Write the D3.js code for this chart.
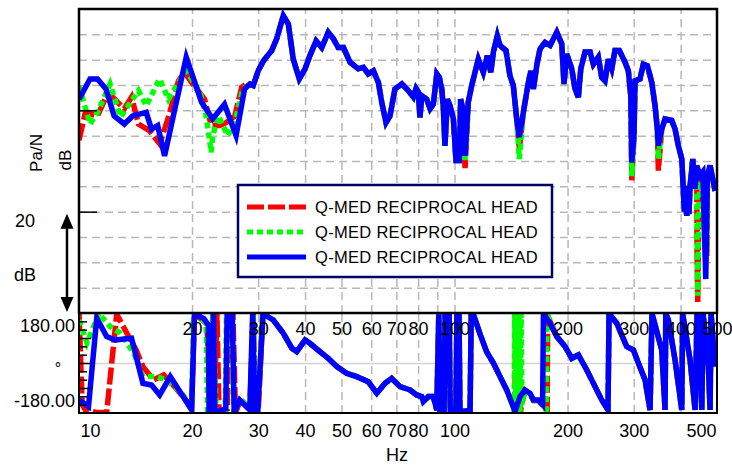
<!DOCTYPE html>
<html>
<head>
<meta charset="utf-8">
<script src="https://cdn.jsdelivr.net/npm/d3@7"></script>
<style>
  body { margin: 0; background: #fff; }
  svg { display: block; font-family: "Liberation Sans", Arial, sans-serif; }
</style>
</head>
<body>
<svg id="chart" width="732" height="465"></svg>
<script>
// ---- data: [frequency Hz, value] ----
// magnitude (dB), below ~28 Hz the three curves differ
const magBlueLow = [[10.0,42.2],[10.7,46.2],[11.2,46.2],[11.8,44.2],[12.4,38.9],[13.2,37.3],[13.9,38.9],[15.1,39.6],[15.6,36.3],[16.2,37.0],[16.9,31.0],[18.0,40.3],[19.3,50.5],[21.2,41.6],[22.7,38.3],[24.4,41.2],[26.2,35.0],[27.6,44.2]];
const magRedLow = [[10.0,34.1],[10.4,39.6],[11.2,38.9],[11.8,42.6],[12.3,42.6],[13.2,40.3],[13.8,42.6],[14.4,37.3],[15.4,36.0],[16.4,33.4],[17.3,38.6],[18.4,45.8],[19.1,47.5],[20.1,45.2],[21.6,42.2],[22.5,37.0],[23.7,37.0],[24.7,37.6],[26.0,38.9],[27.1,44.5],[27.9,45.2]];
const magGreenLow = [[10.0,44.8],[10.7,37.3],[11.2,39.6],[12.1,45.2],[12.9,38.7],[14.4,43.9],[15.1,40.9],[16.4,46.2],[17.3,42.2],[18.2,44.9],[19.3,47.8],[21.0,43.6],[21.8,38.9],[22.5,31.7],[22.7,35.0],[23.5,38.9],[24.9,35.0],[26.0,37.6],[27.3,44.2]];
// above ~28 Hz the curves lie on top of each other
const magShared = [[28.5,45.2],[29.1,44.9],[30.0,47.8],[31.0,49.8],[32.6,51.8],[33.6,54.1],[35.0,58.7],[36.1,57.0],[37.2,50.1],[38.6,46.2],[40.0,48.2],[41.2,50.8],[42.8,53.7],[44.3,52.4],[46.1,55.4],[47.6,54.1],[49.0,52.4],[50.6,52.4],[52.7,49.5],[55.4,48.2],[57.2,48.5],[58.9,47.2],[60.8,47.8],[62.7,45.5],[64.0,41.6],[65.7,37.6],[67.3,38.9],[69.4,44.2],[72.4,45.2],[75.3,43.9],[77.7,42.6],[79.0,44.3],[80.1,43.6],[80.9,38.6],[81.8,42.9],[84.3,42.2],[86.1,40.3],[87.8,41.2],[89.7,47.2],[91.1,46.5],[92.5,44.2],[93.4,40.3],[94.3,33.0],[95.7,42.2],[97.3,40.9],[99.3,38.3],[100.9,30.1],[103.0,30.1],[103.8,42.2],[105.2,40.3],[106.7,31.0],[108.8,41.6],[111.1,44.9],[115.7,50.1],[119.3,47.5],[122.3,50.8],[124.9,47.5],[126.9,51.5],[130.0,54.7],[132.2,52.8],[137.1,51.8],[140.5,46.8],[143.4,44.9],[146.4,38.3],[148.8,34.7],[152.5,39.6],[157.3,45.5],[159.6,47.8],[162.2,44.2],[165.5,48.8],[168.9,52.1],[174.2,53.4],[179.6,52.8],[187.2,55.4],[193.0,53.1],[195.7,45.2],[199.0,51.1],[205.2,48.2],[209.4,44.2],[213.7,42.6],[216.9,48.2],[222.6,51.5],[229.6,51.5],[234.3,49.1],[241.5,50.5],[246.6,46.5],[251.6,45.8],[256.8,50.1],[262.2,48.2],[267.5,51.8],[274.7,51.8],[284.5,49.5],[290.3,47.8],[294.7,42.9],[296.5,29.7],[300.6,35.0],[302.5,45.8],[311.9,46.2],[318.3,49.1],[326.3,48.8],[335.2,45.5],[342.0,40.9],[346.8,36.3],[349.0,33.0],[356.3,36.3],[363.6,38.3],[378.8,38.0],[386.6,36.3],[394.5,33.0],[402.9,30.4],[409.3,20.0],[411.1,25.1],[413.0,21.0],[415.4,19.2],[419.0,24.0],[421.0,19.5],[423.9,25.1],[431.0,30.4],[437.1,24.5],[441.6,29.1],[450.7,27.1],[458.1,27.8],[471.3,27.1],[479.2,29.1],[489.0,25.8],[494.1,24.1]];
// where one curve dips deeper than the others
const magBlueExtra = [[466.7,6.7]];
const magRedExtra = [[106.7,28.6],[148.8,32.5],[296.5,26.2],[349.0,28.1],[442.5,12.0],[444.4,2.2],[446.0,14.0],[470.0,11.2]];
const magGreenExtra = [[106.7,30.2],[148.8,30.4],[296.5,27.0],[349.0,30.4],[442.5,14.0],[444.4,3.4],[446.0,15.0],[470.0,12.5]];

// phase (degrees)
const phBlueLow = [[10.0,-133],[10.6,-157],[11.15,161],[11.85,95],[12.5,83],[13.8,89],[14.8,-73],[15.6,-79],[16.4,-115],[17.5,-49],[19.95,-169],[20.3,178],[21.5,160],[22.1,137],[22.2,-178],[22.6,-172],[22.8,178],[23.0,-178],[24.6,-165],[24.8,178],[25.6,176],[25.9,-178],[26.8,-133],[28.5,-169],[29.0,178],[29.4,-176],[29.9,-178],[30.9,178]];
const phRedLow = [[10.0,178],[10.2,-150],[10.4,-169],[11.15,-178],[11.85,-178],[12.6,176],[13.4,108],[14.2,47],[14.8,-13],[15.8,-61],[16.8,-43],[17.8,-79],[19.95,-157],[20.3,178],[21.9,142],[22.5,-176],[22.9,-168],[23.3,178],[23.6,-178],[24.8,-166],[25.1,178],[25.7,174],[26.1,-178],[26.9,-136],[28.5,-167],[29.1,178],[29.5,-176],[30.0,-177],[30.9,178]];
const phGreenLow = [[10.0,155],[10.5,72],[11.3,178],[12.1,131],[12.9,107],[14.0,35],[14.8,-49],[16.1,-49],[17.1,-61],[18.8,-109],[19.95,-160],[20.2,178],[21.8,145],[22.0,-178],[22.4,-170],[22.7,178],[23.2,-178],[24.5,-168],[24.7,178],[25.5,175],[25.8,-178],[26.9,-130],[28.6,-166],[29.1,178],[29.4,-178],[29.9,-176],[30.8,178]];
const phSharedA = [[32.9,155],[35.0,107],[36.9,53],[38.0,41],[40.0,83],[41.2,71],[43.8,41],[46.1,17],[48.6,-13],[51.6,-37],[54.9,-49],[58.9,-67],[62.1,-109],[65.3,-73],[68.0,-55],[71.6,-85],[76.1,-97],[79.3,-115],[81.8,-121],[82.6,-139],[85.2,-121],[87.8,-121],[89.7,-169],[90.8,175],[91.6,-175],[93.8,-176],[94.4,176],[96.8,170],[97.4,-176],[100.8,-170],[101.5,176],[102.8,172],[103.4,-176],[110.0,-170],[110.8,178],[112.2,176],[116.9,105],[121.8,40],[126.9,0],[132.2,-49],[137.7,-97]];
const phBlueMid = [[143.4,-157],[144.9,-175],[149.4,-121],[154.1,-97],[158.9,-109],[162.2,-133],[167.2,-133],[171.6,-150],[172.5,178],[179.6,143],[187.2,95]];
const phRedMid = [[143.4,-157],[144.8,-176],[145.6,176],[147.0,-178],[148.2,176],[149.8,-178],[151.0,-146],[154.1,-99],[158.9,-111],[162.2,-135],[167.2,-135],[171.6,-152],[176.5,-172],[177.0,178],[179.6,150],[187.2,96]];
const phGreenMid = [[143.4,-160],[144.2,-178],[144.6,176],[145.8,-176],[146.6,178],[147.6,-178],[148.4,176],[149.4,-176],[150.4,178],[151.2,-150],[154.1,-99],[158.9,-111],[162.2,-135],[167.2,-135],[171.6,-150],[175.5,-172],[176.2,178],[179.6,150],[187.2,97]];
const phSharedB = [[197.0,59],[205.2,17],[213.7,29],[225.0,-25],[236.7,-85],[246.6,-133],[256.3,-169],[257.9,178],[270.4,143],[287.4,59],[299.5,47],[308.7,0],[321.7,-61],[331.7,-169],[335.7,178],[356.3,47],[363.6,-169],[365.3,178],[371.0,155],[386.6,11],[402.9,-169],[404.9,178],[423.9,11],[437.1,-169],[442.5,178],[446.1,155],[455.5,-169],[459.2,178],[474.3,-13],[479.2,-169],[482.1,178],[494.1,-13]];

const legendLabels = ["Q-MED RECIPROCAL HEAD", "Q-MED RECIPROCAL HEAD", "Q-MED RECIPROCAL HEAD"];

// ticks / grid
const freqGrid = [20, 30, 40, 50, 60, 70, 80, 90, 100, 200, 300, 400];
const freqLabelsTop = [20, 30, 40, 50, 60, 70, 80, 100, 200, 300, 400, 500];
const freqLabelsBottom = [10, 20, 30, 40, 50, 60, 70, 80, 100, 200, 300, 500];
const magGrid = [5, 10, 15, 20, 25, 30, 35, 40, 45, 50, 55];
const magTicks = [20, 40];
const phMinorTicks = [150, 120, 90, 60, 30, 0, -30, -60, -90, -120, -150];

// ---- layout ----
const width = 732;
const height = 465;
const plotLeft = 79, plotRight = 717;
const magTop = 9, magBottom = 313, phBottom = 413;
const gridColor = "#b8b8b8";

const svg = d3.select("#chart");

const xScale = d3.scaleLog().domain([10, 500]).range([plotLeft, plotRight]);
const yMag = d3.scaleLinear().domain([0, 60]).range([magBottom, magTop]);
const yPh = d3.scaleLinear().domain([-180, 180]).range([phBottom, magBottom]);

function mergePts(base, extra) {
  const m = new Map(base.map(d => [d[0], d[1]]));
  extra.forEach(d => m.set(d[0], d[1]));
  return Array.from(m).sort((a, b) => a[0] - b[0]);
}

const series = [
  { label: legendLabels[0], color: "#ff0000", dash: "17,4",
    mag: mergePts(magRedLow.concat(magShared), magRedExtra),
    ph: phRedLow.concat(phSharedA, phRedMid, phSharedB) },
  { label: legendLabels[1], color: "#00ff00", dash: "6,4",
    mag: mergePts(magGreenLow.concat(magShared), magGreenExtra),
    ph: phGreenLow.concat(phSharedA, phGreenMid, phSharedB) },
  { label: legendLabels[2], color: "#0000ff", dash: null,
    mag: mergePts(magBlueLow.concat(magShared), magBlueExtra),
    ph: phBlueLow.concat(phSharedA, phBlueMid, phSharedB) }
];

// clip paths
const defs = svg.append("defs");
defs.append("clipPath").attr("id", "clipMag").append("rect")
  .attr("x", plotLeft).attr("y", magTop).attr("width", plotRight - plotLeft).attr("height", magBottom - magTop);
defs.append("clipPath").attr("id", "clipPh").append("rect")
  .attr("x", plotLeft).attr("y", magBottom).attr("width", plotRight - plotLeft).attr("height", phBottom - magBottom);

// ---- grids ----
function styleGrid(g, dashed) {
  g.select(".domain").remove();
  g.selectAll(".tick line")
    .attr("stroke", gridColor)
    .attr("stroke-width", 1.5)
    .attr("stroke-dasharray", dashed ? "8,5" : null);
}

svg.append("g")
  .attr("transform", `translate(0,${magBottom})`)
  .call(d3.axisBottom(xScale).tickValues(freqGrid).tickSize(-(magBottom - magTop)).tickFormat(""))
  .call(g => styleGrid(g, true));

svg.append("g")
  .attr("transform", `translate(0,${phBottom})`)
  .call(d3.axisBottom(xScale).tickValues(freqGrid).tickSize(-(phBottom - magBottom)).tickFormat(""))
  .call(g => styleGrid(g, true));

svg.append("g")
  .attr("transform", `translate(${plotLeft},0)`)
  .call(d3.axisLeft(yMag).tickValues(magGrid).tickSize(-(plotRight - plotLeft)).tickFormat(""))
  .call(g => styleGrid(g, true));

svg.append("g")
  .attr("transform", `translate(${plotLeft},0)`)
  .call(d3.axisLeft(yPh).tickValues([0]).tickSize(-(plotRight - plotLeft)).tickFormat(""))
  .call(g => styleGrid(g, false))
  .call(g => g.selectAll(".tick line").attr("stroke", "#d4d4d4"));

// ---- curves ----
const magLine = d3.line().x(d => xScale(d[0])).y(d => yMag(d[1]));
const phLine = d3.line().x(d => xScale(d[0])).y(d => yPh(d[1]));

const magG = svg.append("g").attr("clip-path", "url(#clipMag)");
const phG = svg.append("g").attr("clip-path", "url(#clipPh)");

series.forEach(s => {
  magG.append("path")
    .attr("d", magLine(s.mag))
    .attr("fill", "none")
    .attr("stroke", s.color)
    .attr("stroke-width", 5.5)
    .attr("stroke-linejoin", "miter")
    .attr("stroke-dasharray", s.dash);
  phG.append("path")
    .attr("d", phLine(s.ph))
    .attr("fill", "none")
    .attr("stroke", s.color)
    .attr("stroke-width", 5.5)
    .attr("stroke-linejoin", "miter")
    .attr("stroke-dasharray", s.dash);
});

// ---- frames ----
svg.append("rect")
  .attr("x", plotLeft).attr("y", magTop)
  .attr("width", plotRight - plotLeft).attr("height", magBottom - magTop)
  .attr("fill", "none").attr("stroke", "#000").attr("stroke-width", 2.5);
svg.append("rect")
  .attr("x", plotLeft).attr("y", magBottom)
  .attr("width", plotRight - plotLeft).attr("height", phBottom - magBottom)
  .attr("fill", "none").attr("stroke", "#000").attr("stroke-width", 2);

// magnitude ticks (inside, solid)
svg.append("g")
  .attr("transform", `translate(${plotLeft},0)`)
  .call(d3.axisRight(yMag).tickValues(magTicks).tickSize(18).tickFormat(""))
  .call(g => g.select(".domain").remove())
  .call(g => g.selectAll(".tick line").attr("stroke", "#000").attr("stroke-width", 1.5));

// phase minor ticks
svg.append("g")
  .attr("transform", `translate(${plotLeft},0)`)
  .call(d3.axisRight(yPh).tickValues(phMinorTicks).tickSize(8).tickFormat(""))
  .call(g => g.select(".domain").remove())
  .call(g => g.selectAll(".tick line").attr("stroke", "#000").attr("stroke-width", 1.5)
    .attr("x2", d => (d % 90 === 0 ? 12 : 8)));

// ---- frequency labels ----
const fmt = d3.format("d");
svg.append("g")
  .attr("transform", `translate(0,${magBottom})`)
  .call(d3.axisBottom(xScale).tickValues(freqLabelsTop).tickSize(0).tickPadding(0).tickFormat(fmt))
  .call(g => g.select(".domain").remove())
  .call(g => g.selectAll("text").attr("dy", null).attr("y", 22)
    .attr("font-size", 18).attr("font-family", "Liberation Sans, Arial, sans-serif").attr("fill", "#000"));

svg.append("g")
  .attr("transform", `translate(0,${phBottom})`)
  .call(d3.axisBottom(xScale).tickValues(freqLabelsBottom).tickSize(0).tickPadding(0).tickFormat(fmt))
  .call(g => g.select(".domain").remove())
  .call(g => g.selectAll("text").attr("dy", null).attr("y", 24)
    .attr("font-size", 18).attr("font-family", "Liberation Sans, Arial, sans-serif").attr("fill", "#000")
    .attr("text-anchor", d => d === 10 ? "start" : d === 500 ? "end" : "middle")
    .attr("x", d => d === 10 ? 1 : d === 500 ? -1 : 0));

svg.append("text").attr("x", 397).attr("y", 461)
  .attr("text-anchor", "middle").attr("font-size", 18).text("Hz");

// ---- left labels ----
svg.append("text").attr("transform", "translate(42,153) rotate(-90)")
  .attr("text-anchor", "middle").attr("font-size", 17).text("Pa/N");
svg.append("text").attr("transform", "translate(71,160) rotate(-90)")
  .attr("text-anchor", "middle").attr("font-size", 17).text("dB");

svg.append("text").attr("x", 35).attr("y", yMag(20) + 15)
  .attr("text-anchor", "end").attr("font-size", 18).text("20");
svg.append("text").attr("x", 25).attr("y", 281)
  .attr("text-anchor", "middle").attr("font-size", 18).text("dB");

// 20 dB arrow
const arrowX = 67;
const aTop = yMag(20) + 2, aBot = yMag(0) - 1;
svg.append("line").attr("x1", arrowX).attr("x2", arrowX)
  .attr("y1", aTop + 10).attr("y2", aBot - 10)
  .attr("stroke", "#000").attr("stroke-width", 2.5);
svg.append("path")
  .attr("d", `M${arrowX},${aTop} L${arrowX - 6.5},${aTop + 15} L${arrowX + 6.5},${aTop + 15} Z`)
  .attr("fill", "#000");
svg.append("path")
  .attr("d", `M${arrowX},${aBot} L${arrowX - 6.5},${aBot - 15} L${arrowX + 6.5},${aBot - 15} Z`)
  .attr("fill", "#000");

svg.append("text").attr("x", 75).attr("y", 332)
  .attr("text-anchor", "end").attr("font-size", 18).text("180.00");
svg.append("text").attr("x", 75).attr("y", 407)
  .attr("text-anchor", "end").attr("font-size", 18).text("-180.00");
svg.append("text").attr("x", 58).attr("y", 374)
  .attr("text-anchor", "middle").attr("font-size", 16).text("°");

// ---- legend ----
const legend = svg.append("g");
legend.append("rect")
  .attr("x", 238).attr("y", 185).attr("width", 314).attr("height", 92)
  .attr("fill", "#fff").attr("stroke", "#000066").attr("stroke-width", 2.5);
series.forEach((s, i) => {
  const ly = 207 + i * 25;
  legend.append("line")
    .attr("x1", 247).attr("x2", 306).attr("y1", ly).attr("y2", ly)
    .attr("stroke", s.color).attr("stroke-width", 5)
    .attr("stroke-dasharray", s.dash);
  legend.append("text")
    .attr("x", 315).attr("y", ly + 6)
    .attr("font-size", 16.5).attr("letter-spacing", 0.3)
    .text(s.label);
});
</script>
</body>
</html>
